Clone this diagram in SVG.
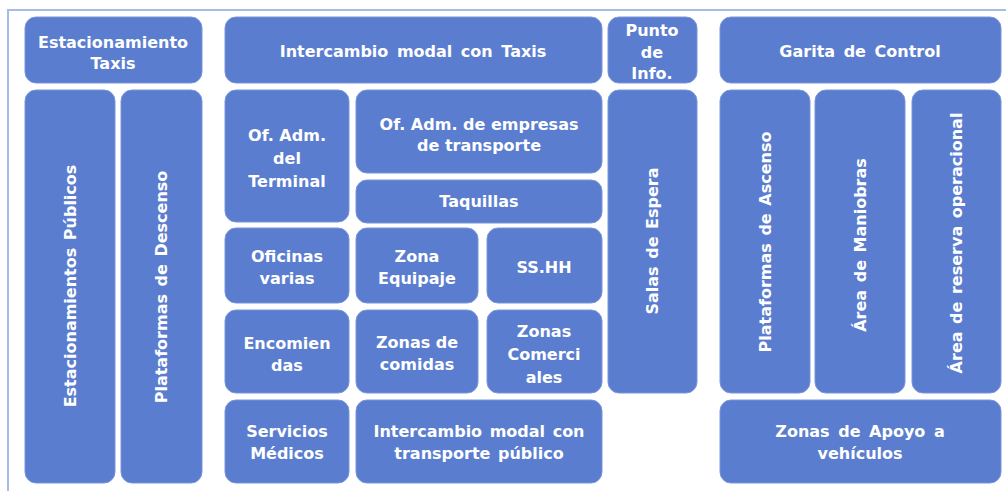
<svg xmlns="http://www.w3.org/2000/svg" width="1006" height="491" viewBox="0 0 1006 491">
<style>
.b{fill:#5b7dcf;stroke:#7a96da;stroke-width:1}
.t{fill:#ffffff;font-family:"DejaVu Sans","Liberation Sans",sans-serif;font-weight:bold;font-size:16px;text-anchor:middle}
</style>
<rect x="0" y="0" width="1006" height="491" fill="#ffffff"/>
<rect x="8" y="10" width="1020" height="500" fill="none" stroke="#a7bbe6" stroke-width="2"/>
<g id="connectors"/>
<g id="est-taxis"><rect class="b" x="25" y="17" width="177" height="66" rx="11"/><text class="t" x="113" y="48">Estacionamiento</text><text class="t" x="113" y="69">Taxis</text></g>
<g id="int-taxis"><rect class="b" x="225" y="17" width="377" height="66" rx="11"/><text class="t" x="413" y="57" word-spacing="3">Intercambio modal con Taxis</text></g>
<g id="punto"><rect class="b" x="608" y="17" width="89" height="66" rx="11"/><text class="t" x="652" y="36">Punto</text><text class="t" x="652" y="58">de</text><text class="t" x="652" y="79">Info.</text></g>
<g id="garita"><rect class="b" x="720" y="17" width="281" height="66" rx="11"/><text class="t" x="860" y="57" word-spacing="3">Garita de Control</text></g>
<g id="est-publicos"><rect class="b" x="25" y="90" width="90" height="393" rx="11"/><text class="t" transform="translate(76,286) rotate(-90)" word-spacing="2">Estacionamientos Públicos</text></g>
<g id="plat-descenso"><rect class="b" x="121" y="90" width="81" height="393" rx="11"/><text class="t" transform="translate(167,287) rotate(-90)" word-spacing="2">Plataformas de Descenso</text></g>
<g id="of-terminal"><rect class="b" x="225" y="90" width="124" height="132" rx="11"/><text class="t" x="287" y="141">Of. Adm.</text><text class="t" x="287" y="164">del</text><text class="t" x="287" y="187">Terminal</text></g>
<g id="of-empresas"><rect class="b" x="356" y="90" width="246" height="83" rx="11"/><text class="t" x="479" y="130">Of. Adm. de empresas</text><text class="t" x="479" y="151">de transporte</text></g>
<g id="taquillas"><rect class="b" x="356" y="180" width="246" height="43" rx="11"/><text class="t" x="479" y="207">Taquillas</text></g>
<g id="oficinas"><rect class="b" x="225" y="228" width="124" height="75" rx="11"/><text class="t" x="287" y="262">Oficinas</text><text class="t" x="287" y="284">varias</text></g>
<g id="zona-equipaje"><rect class="b" x="356" y="228" width="122" height="75" rx="11"/><text class="t" x="417" y="262">Zona</text><text class="t" x="417" y="284">Equipaje</text></g>
<g id="sshh"><rect class="b" x="487" y="228" width="115" height="75" rx="11"/><text class="t" x="544" y="273">SS.HH</text></g>
<g id="encomiendas"><rect class="b" x="225" y="310" width="124" height="83" rx="11"/><text class="t" x="287" y="349">Encomien</text><text class="t" x="287" y="371">das</text></g>
<g id="comidas"><rect class="b" x="356" y="310" width="122" height="83" rx="11"/><text class="t" x="417" y="348">Zonas de</text><text class="t" x="417" y="370">comidas</text></g>
<g id="comerciales"><rect class="b" x="487" y="310" width="115" height="83" rx="11"/><text class="t" x="544" y="337">Zonas</text><text class="t" x="544" y="360">Comerci</text><text class="t" x="544" y="383">ales</text></g>
<g id="servicios"><rect class="b" x="225" y="400" width="124" height="83" rx="11"/><text class="t" x="287" y="437">Servicios</text><text class="t" x="287" y="459">Médicos</text></g>
<g id="int-publico"><rect class="b" x="356" y="400" width="246" height="83" rx="11"/><text class="t" x="479" y="437" word-spacing="2">Intercambio modal con</text><text class="t" x="479" y="459" word-spacing="2">transporte público</text></g>
<g id="salas"><rect class="b" x="608" y="90" width="89" height="303" rx="11"/><text class="t" transform="translate(658,241) rotate(-90)" word-spacing="2">Salas de Espera</text></g>
<g id="plat-ascenso"><rect class="b" x="720" y="90" width="90" height="303" rx="11"/><text class="t" transform="translate(771,242) rotate(-90)" word-spacing="2">Plataformas de Ascenso</text></g>
<g id="maniobras"><rect class="b" x="815" y="90" width="90" height="303" rx="11"/><text class="t" transform="translate(866,245) rotate(-90)" word-spacing="2">Área de Maniobras</text></g>
<g id="reserva"><rect class="b" x="912" y="90" width="89" height="303" rx="11"/><text class="t" transform="translate(962,243) rotate(-90)" word-spacing="2">Área de reserva operacional</text></g>
<g id="apoyo"><rect class="b" x="720" y="400" width="281" height="83" rx="11"/><text class="t" x="860" y="437" word-spacing="3">Zonas de Apoyo a</text><text class="t" x="860" y="459">vehículos</text></g>
</svg>
